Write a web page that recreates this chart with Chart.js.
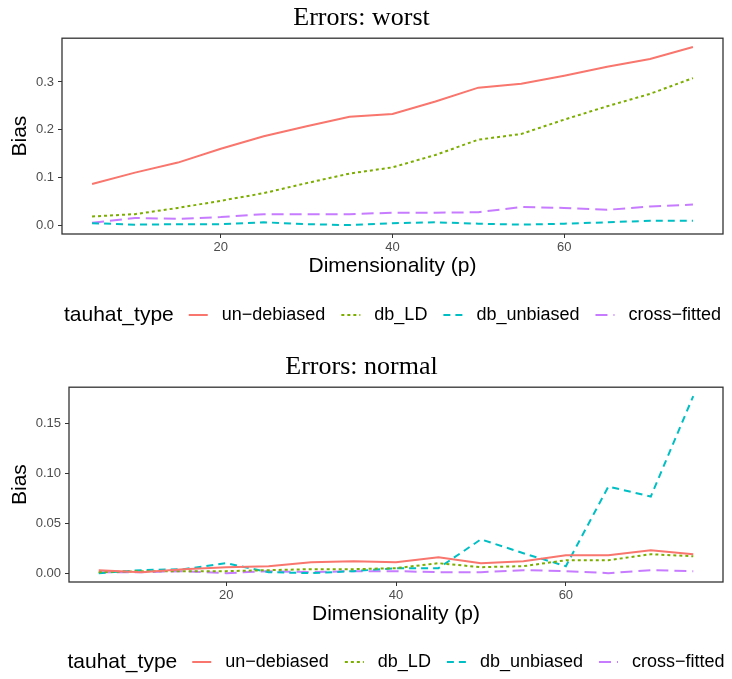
<!DOCTYPE html>
<html>
<head>
<meta charset="utf-8">
<script src="https://cdn.jsdelivr.net/npm/chart.js@4.4.1/dist/chart.umd.min.js"></script>
<style>
  body { margin: 0; background: #fff; }
  canvas { display: block; }
</style>
</head>
<body>
<canvas id="worstChart" width="732" height="349"></canvas>
<canvas id="normalChart" width="732" height="330"></canvas>
<script>
// dimensionality p on the x axis
const dims = [5, 10, 15, 20, 25, 30, 35, 40, 45, 50, 55, 60, 65, 70, 75];
const xTicks = [20, 40, 60];

const seriesNames = ['un\u2212debiased', 'db_LD', 'db_unbiased', 'cross\u2212fitted'];
const seriesColors = ['#F8766D', '#7CAE00', '#00BFC4', '#C77CFF'];
const seriesDash = [[], [3, 3], [7, 5], [12, 6]];

// Errors: worst
const worstUnDebiased = [0.086, 0.110, 0.131, 0.160, 0.186, 0.207, 0.227, 0.233, 0.259, 0.288, 0.296, 0.313, 0.332, 0.348, 0.373];
const worstDbLD = [0.018, 0.023, 0.036, 0.051, 0.067, 0.088, 0.108, 0.121, 0.147, 0.179, 0.191, 0.221, 0.249, 0.275, 0.308];
const worstDbUnbiased = [0.004, 0.001, 0.002, 0.002, 0.006, 0.002, 0.000, 0.004, 0.006, 0.003, 0.001, 0.003, 0.006, 0.009, 0.009];
const worstCrossFitted = [0.005, 0.015, 0.013, 0.017, 0.023, 0.023, 0.023, 0.026, 0.026, 0.027, 0.038, 0.036, 0.032, 0.039, 0.043];
const worstYTicks = [0, 0.1, 0.2, 0.3];

// Errors: normal
const normalUnDebiased = [0.003, 0.001, 0.004, 0.006, 0.007, 0.011, 0.012, 0.011, 0.016, 0.010, 0.012, 0.018, 0.018, 0.023, 0.019];
const normalDbLD = [0.001, 0.002, 0.002, 0.002, 0.003, 0.004, 0.004, 0.005, 0.010, 0.006, 0.007, 0.013, 0.013, 0.019, 0.017];
const normalDbUnbiased = [0.000, 0.003, 0.004, 0.010, 0.001, 0.000, 0.002, 0.005, 0.005, 0.034, 0.020, 0.007, 0.087, 0.077, 0.178];
const normalCrossFitted = [0.001, 0.001, 0.002, 0.000, 0.002, 0.001, 0.002, 0.002, 0.001, 0.001, 0.003, 0.002, 0.000, 0.003, 0.002];
const normalYTicks = [0, 0.05, 0.10, 0.15];

const SANS = '"Liberation Sans", Arial, sans-serif';

// panel border + ggplot style legend underneath
const ggPanel = {
    id: 'ggPanel',
    afterDraw(chart, args, opts) {
        const ctx = chart.ctx;
        const a = chart.chartArea;
        ctx.save();
        ctx.strokeStyle = '#333333';
        ctx.lineWidth = 1.3;
        ctx.strokeRect(a.left, a.top, a.right - a.left, a.bottom - a.top);

        // legend
        const y = opts.legendY;
        const titleFont = '21px ' + SANS;
        const itemFont = '18px ' + SANS;
        ctx.font = titleFont;
        const titleW = ctx.measureText('tauhat_type').width;
        ctx.font = itemFont;
        const widths = seriesNames.map(n => ctx.measureText(n).width);
        const keyW = 19, gapTitle = 15, gapKey = 14, gapItem = 16;
        let total = titleW + gapTitle;
        widths.forEach((w, i) => { total += keyW + gapKey + w + (i < widths.length - 1 ? gapItem : 0); });
        let x = (a.left + a.right) / 2 - total / 2;
        ctx.fillStyle = '#000';
        ctx.textBaseline = 'middle';
        ctx.textAlign = 'left';
        ctx.font = titleFont;
        ctx.fillText('tauhat_type', x, y);
        x += titleW + gapTitle;
        ctx.font = itemFont;
        seriesNames.forEach((n, i) => {
            ctx.beginPath();
            ctx.strokeStyle = seriesColors[i];
            ctx.lineWidth = 2;
            ctx.setLineDash(seriesDash[i]);
            ctx.moveTo(x, y);
            ctx.lineTo(x + keyW, y);
            ctx.stroke();
            ctx.setLineDash([]);
            x += keyW + gapKey;
            ctx.fillStyle = '#000';
            ctx.fillText(n, x, y);
            x += widths[i] + gapItem;
        });
        ctx.restore();
    }
};

function makeChart(id, title, values, yTicks, decimals, yMin, yMax, g) {
    const ctx = document.getElementById(id).getContext('2d');
    return new Chart(ctx, {
        type: 'line',
        data: {
            datasets: values.map((vals, i) => ({
                label: seriesNames[i],
                data: dims.map((d, j) => ({ x: d, y: vals[j] })),
                borderColor: seriesColors[i],
                borderDash: seriesDash[i],
                borderWidth: 2,
                pointRadius: 0,
                tension: 0,
                fill: false
            }))
        },
        options: {
            responsive: false,
            animation: false,
            devicePixelRatio: 1,
            layout: { padding: { left: 0, right: 9, top: 0, bottom: g.padBottom } },
            plugins: {
                legend: { display: false },
                tooltip: { enabled: false },
                title: {
                    display: true,
                    text: title,
                    color: '#000',
                    font: { family: '"Liberation Serif", "Times New Roman", serif', size: 26, weight: 'normal', lineHeight: 1.2 },
                    padding: { top: 3, bottom: 4 }
                },
                ggPanel: { legendY: g.legendY }
            },
            scales: {
                x: {
                    type: 'linear',
                    min: 1.5,
                    max: 78.5,
                    afterBuildTicks: s => { s.ticks = xTicks.map(v => ({ value: v })); },
                    afterFit: s => { s.height = 45; },
                    ticks: { color: '#4D4D4D', font: { family: SANS, size: 13 }, padding: 2, maxRotation: 0 },
                    grid: { display: true, drawOnChartArea: false, drawTicks: true, tickLength: 4, tickColor: '#333333' },
                    border: { display: false },
                    title: {
                        display: true,
                        text: 'Dimensionality (p)',
                        color: '#000',
                        font: { family: SANS, size: 21, lineHeight: 1.2 },
                        padding: { top: 0, bottom: 0 }
                    }
                },
                y: {
                    type: 'linear',
                    min: yMin,
                    max: yMax,
                    afterBuildTicks: s => { s.ticks = yTicks.map(v => ({ value: v })); },
                    afterFit: s => { s.width = g.left; },
                    ticks: {
                        color: '#4D4D4D',
                        font: { family: SANS, size: 13 },
                        padding: 4,
                        callback: v => Number(v).toFixed(decimals)
                    },
                    grid: { display: true, drawOnChartArea: false, drawTicks: true, tickLength: 4, tickColor: '#333333' },
                    border: { display: false },
                    title: {
                        display: true,
                        text: 'Bias',
                        color: '#000',
                        font: { family: SANS, size: 21, lineHeight: 1.2 },
                        padding: { top: 8, bottom: 0 }
                    }
                }
            }
        },
        plugins: [ggPanel]
    });
}

makeChart('worstChart', 'Errors: worst',
    [worstUnDebiased, worstDbLD, worstDbUnbiased, worstCrossFitted],
    worstYTicks, 1, -0.0186, 0.3916,
    { left: 62, padBottom: 70, legendY: 315 });

makeChart('normalChart', 'Errors: normal',
    [normalUnDebiased, normalDbLD, normalDbUnbiased, normalCrossFitted],
    normalYTicks, 2, -0.0089, 0.1869,
    { left: 69, padBottom: 52, legendY: 313 });
</script>
</body>
</html>
